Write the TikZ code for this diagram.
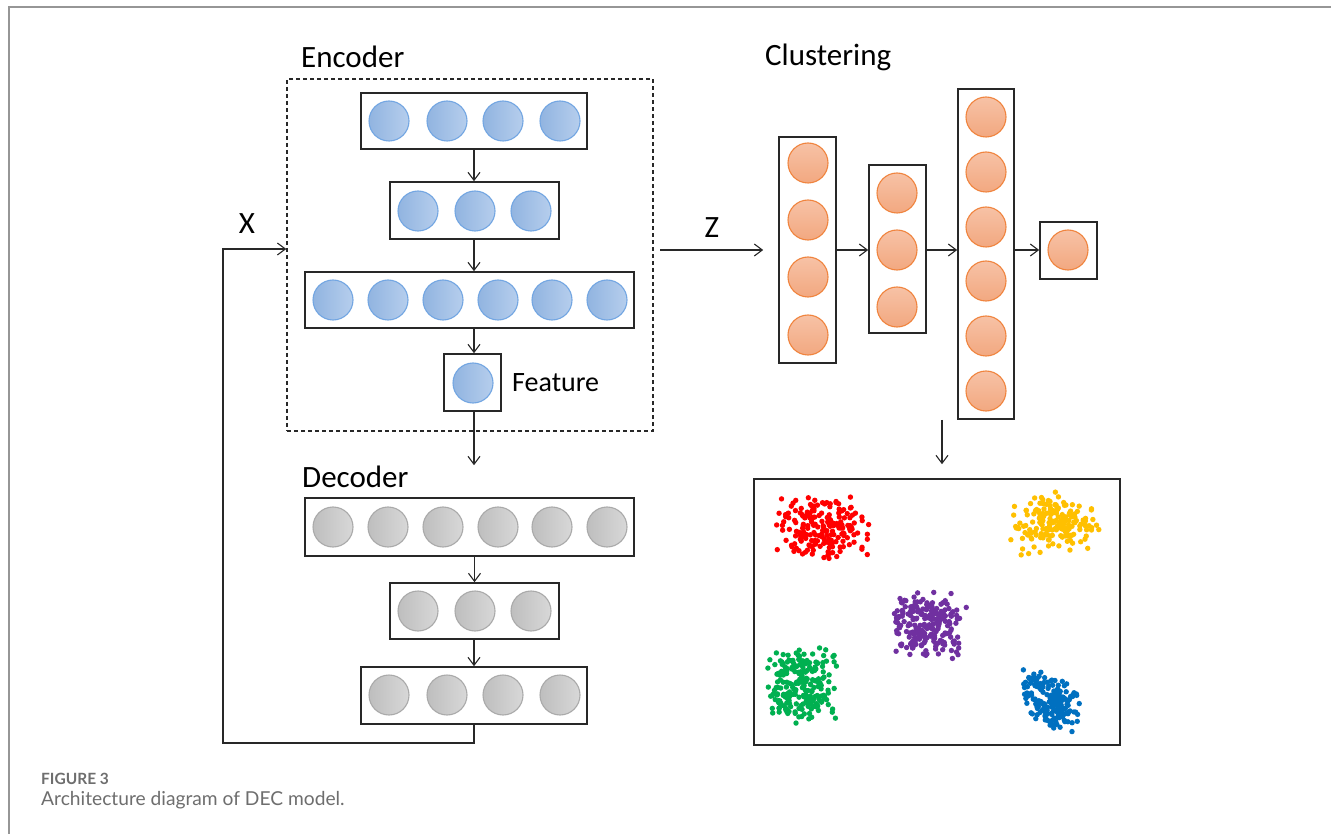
\documentclass[tikz,border=0pt]{standalone}
\usepackage{fontspec}
\setmainfont{Carlito}
\newfontfamily\capfont{Lato}
\usetikzlibrary{arrows.meta,calc}

\definecolor{blueL}{RGB}{145,180,224}
\definecolor{blueR}{RGB}{182,206,237}
\definecolor{blueBd}{RGB}{115,166,226}
\definecolor{orT}{RGB}{247,194,166}
\definecolor{orB}{RGB}{242,168,128}
\definecolor{orBd}{RGB}{240,132,62}
\definecolor{grL}{RGB}{190,190,190}
\definecolor{grR}{RGB}{216,216,216}
\definecolor{grBd}{RGB}{170,170,170}
\definecolor{ink}{RGB}{40,40,40}
\definecolor{frameGray}{RGB}{150,150,150}
\definecolor{capGray}{RGB}{110,110,110}
\definecolor{ptRed}{RGB}{255,0,0}
\definecolor{ptYellow}{RGB}{255,192,0}
\definecolor{ptPurple}{RGB}{112,48,160}
\definecolor{ptGreen}{RGB}{0,176,80}
\definecolor{ptBlue}{RGB}{0,112,192}

\tikzset{
  layer/.style={draw=ink, line width=1.6pt, rectangle, inner sep=0pt},
  unit/.style={circle, minimum size=40pt, inner sep=0pt, line width=1.1pt},
  bnode/.style={unit, draw=blueBd, left color=blueL, right color=blueR},
  onode/.style={unit, draw=orBd, top color=orT, bottom color=orB},
  gnode/.style={unit, draw=grBd, left color=grL, right color=grR},
  arr/.style={draw=ink, line width=1.1pt, -{Straight Barb[length=8pt,width=12pt]}},
  title/.style={font=\fontsize{31}{31}\selectfont, anchor=west, inner sep=0pt},
  dot/.style={radius=2.7pt},
}

% flattened random offset in [-1,1]
\newcommand\spreadrand[1]{\pgfmathsetmacro#1{0.65*rand+0.35*rand}}

\begin{document}
\begin{tikzpicture}[x=1pt, y=-1pt]
\useasboundingbox (0,0) rectangle (1331,834);
\fill[white] (0,0) rectangle (1331,834);

% page frame
\draw[frameGray, line width=2pt] (9,834) -- (9,7.5) -- (1331,7.5);

% ---------------- encoder ----------------
\node[title] (encT) at (301,57) {Encoder};
\node[draw=ink, line width=1.4pt, dash pattern=on 4pt off 3pt, rectangle,
      minimum width=366pt, minimum height=352pt, inner sep=0pt] (enc) at (470,255) {};

\node[layer, minimum width=226pt, minimum height=56pt] (e1) at (474,121) {};
\foreach \x [count=\k] in {389,447,503,560} \node[bnode] (e1n\k) at (\x,121) {};

\node[layer, minimum width=169pt, minimum height=57pt] (e2) at (474.5,210.5) {};
\foreach \x [count=\k] in {418,475,531} \node[bnode] (e2n\k) at (\x,211) {};

\node[layer, minimum width=329pt, minimum height=56pt] (e3) at (469.5,300) {};
\foreach \x [count=\k] in {333,388,443,498,552,607} \node[bnode] (e3n\k) at (\x,300) {};

\node[layer, minimum width=57pt, minimum height=57pt] (fb) at (472.5,382.5) {};
\node[bnode] (fbn) at (473,383) {};
\node[font=\fontsize{28}{28}\selectfont, anchor=west, inner sep=0pt] (featT) at (512,383) {Feature};

\draw[arr] (e1.south) -- (e1.south |- e2.north);
\draw[arr] (e1.south |- e2.south) -- (e1.south |- e3.north);
\draw[arr] (e1.south |- e3.south) -- (e1.south |- fb.north);

% ---------------- decoder ----------------
\node[title] (decT) at (302,477) {Decoder};

\node[layer, minimum width=329pt, minimum height=58pt] (d1) at (469.5,527) {};
\foreach \x [count=\k] in {333,388,443,498,552,607} \node[gnode] (d1n\k) at (\x,527) {};

\node[layer, minimum width=169pt, minimum height=56pt] (d2) at (474.5,611) {};
\foreach \x [count=\k] in {418,475,531} \node[gnode] (d2n\k) at (\x,611) {};

\node[layer, minimum width=226pt, minimum height=57pt] (d3) at (474,695.5) {};
\foreach \x [count=\k] in {389,447,503,560} \node[gnode] (d3n\k) at (\x,695) {};

\draw[arr] (e1.south |- fb.south) -- ($(e1.south |- d1.north)+(0,-32)$);
\draw[arr] (d2.north |- d1.south) -- (d2.north);
\draw[arr] (d3.north |- d2.south) -- (d3.north);

% reconstruction fed back as input X
\coordinate (fbk) at (223,743);
\coordinate (xrow) at (0,249);
\draw[arr] (d3.south) |- (fbk) |- (enc.west |- xrow);
\node[font=\fontsize{31}{31}\selectfont, inner sep=0pt] (xT) at (247,224) {X};

% ---------------- clustering ----------------
\node[title] (cluT) at (765,57) {Clustering};

\node[layer, minimum width=57pt, minimum height=226pt] (c1) at (807.5,250) {};
\foreach \y [count=\k] in {163,220,277,335} \node[onode] (c1n\k) at (808,\y) {};

\node[layer, minimum width=57pt, minimum height=168pt] (c2) at (897.5,249) {};
\foreach \y [count=\k] in {193,250,307} \node[onode] (c2n\k) at (897,\y) {};

\node[layer, minimum width=56pt, minimum height=330pt] (c3) at (986,254) {};
\foreach \y [count=\k] in {117,172,227,281,336,391} \node[onode] (c3n\k) at (986,\y) {};

\node[layer, minimum width=57pt, minimum height=57pt] (c4) at (1068.5,250.5) {};
\node[onode] (c4n) at (1068,250) {};

\coordinate (zs) at (660,250);
\draw[arr] (zs) -- ($(c1.west)+(-15,0)$);
\node[font=\fontsize{31}{31}\selectfont, inner sep=0pt] (zT) at (712,228) {Z};

\draw[arr] (c1.east) -- (c2.west |- c1.east);
\draw[arr] (c2.east |- c1.east) -- (c3.west |- c1.east);
\draw[arr] (c3.east |- c1.east) -- (c4.west |- c1.east);

% scatter plot of the clustered embedding
\node[draw=ink, line width=1.6pt, rectangle, inner sep=0pt,
      minimum width=366pt, minimum height=266pt] (plot) at (937,612) {};
\coordinate (cd) at (942,0);
\draw[arr] (c3.south -| cd) -- ($(plot.north -| cd)+(0,-14)$);

% red cluster
\pgfmathsetseed{11}
\foreach \i in {1,...,190}{
  \spreadrand\ua \spreadrand\ub
  \pgfmathsetmacro\px{822+50*\ua}
  \pgfmathsetmacro\py{528+36*\ub}
  \fill[ptRed] (\px,\py) circle[dot];
}
% yellow cluster
\pgfmathsetseed{23}
\foreach \i in {1,...,180}{
  \spreadrand\ua \spreadrand\ub
  \pgfmathsetmacro\px{1054+48*\ua}
  \pgfmathsetmacro\py{520+30*\ub+12*abs(\ua)}
  \fill[ptYellow] (\px,\py) circle[dot];
}
% purple cluster
\pgfmathsetseed{37}
\foreach \i in {1,...,220}{
  \spreadrand\ua \spreadrand\ub
  \pgfmathsetmacro\px{928+40*\ua}
  \pgfmathsetmacro\py{625+36*\ub}
  \fill[ptPurple] (\px,\py) circle[dot];
}
% green cluster
\pgfmathsetseed{51}
\foreach \i in {1,...,230}{
  \spreadrand\ua \spreadrand\ub
  \pgfmathsetmacro\px{802+39*\ua}
  \pgfmathsetmacro\py{685+40*\ub}
  \fill[ptGreen] (\px,\py) circle[dot];
}
% blue cluster
\pgfmathsetseed{73}
\foreach \i in {1,...,190}{
  \spreadrand\ua \spreadrand\ub
  \pgfmathsetmacro\px{1052+30*\ua+5*\ub}
  \pgfmathsetmacro\py{700+8*\ua+30*\ub}
  \fill[ptBlue] (\px,\py) circle[dot];
}

% caption
\node[anchor=west, inner sep=0pt, text=capGray,
      font=\capfont\bfseries\fontsize{15.5}{15.5}\selectfont] (capA) at (41,779) {FIGURE 3};
\node[anchor=west, inner sep=0pt, text=capGray,
      font=\capfont\fontsize{19.2}{19.2}\selectfont] (capB) at (41,800) {Architecture diagram of DEC model.};
\end{tikzpicture}
\end{document}
